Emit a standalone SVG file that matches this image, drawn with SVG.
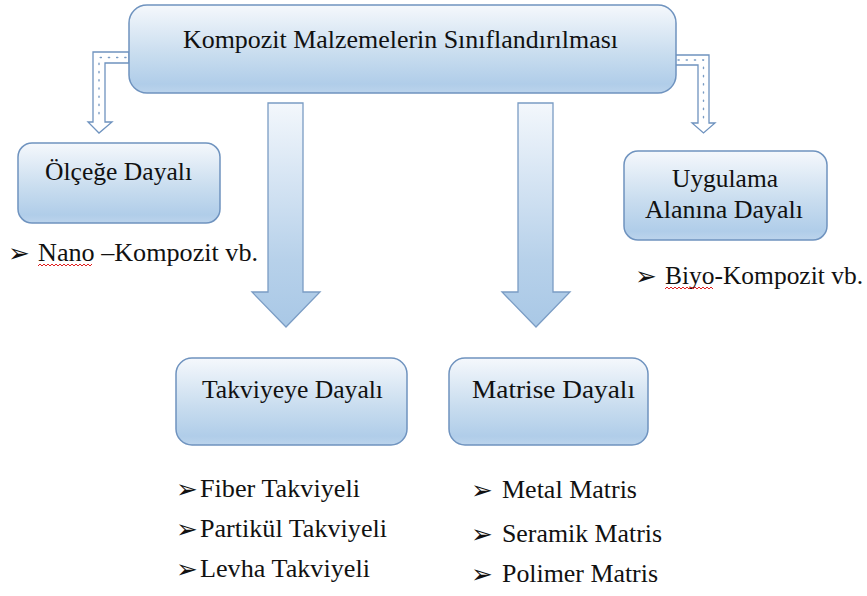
<svg xmlns="http://www.w3.org/2000/svg" width="867" height="596" viewBox="0 0 867 596">
<defs>
<linearGradient id="boxGrad" x1="0" y1="0" x2="0" y2="1">
<stop offset="0" stop-color="#f5f8fc"/>
<stop offset="0.55" stop-color="#c9ddef"/>
<stop offset="0.9" stop-color="#b0cde9"/>
<stop offset="1" stop-color="#bcd4ec"/>
</linearGradient>
<linearGradient id="arrowGrad" x1="0" y1="0" x2="0" y2="1">
<stop offset="0" stop-color="#f3f7fc"/>
<stop offset="0.7" stop-color="#b7d1ea"/>
<stop offset="1" stop-color="#a9c8e6"/>
</linearGradient>
</defs>
<style>
.box{fill:url(#boxGrad);stroke:#6f93bf;stroke-width:1.5}
.big{fill:url(#arrowGrad);stroke:#7a9cc4;stroke-width:1.3}
.bent{fill:#ffffff;stroke:#6f93bf;stroke-width:1.3}
.dots{fill:none;stroke:#7a9cc4;stroke-width:1.4;stroke-dasharray:1.2 7;stroke-linecap:round}
.t{font-family:'Liberation Serif',serif;font-size:25px;fill:#111}
.b{font-family:'DejaVu Sans',sans-serif;font-size:26px;fill:#111}
.sq{fill:none;stroke:#e02020;stroke-width:1}
</style>
<rect width="867" height="596" fill="#ffffff"/>
<g id="connectors">
<path class="bent" d="M129,52 H93 V122 H88 L99,133 L112,122 H105 V63 H129 Z"/>
<path class="dots" d="M126,57.5 H99 V119"/>
<path class="bent" d="M675,55 H709 V123 H715 L703.5,133 L692,123 H698 V65 H675 Z"/>
<path class="dots" d="M678,60 H703.5 V120"/>
<path class="big" d="M268,103 H303 V292 H320 L286,327 L252,292 H268 Z"/>
<path class="big" d="M518,103 H553 V292 H570 L536,327 L502,292 H518 Z"/>
</g>
<g id="root">
<rect class="box" x="129" y="5" width="547" height="88" rx="18"/>
<text class="t" x="183" y="48" textLength="435" lengthAdjust="spacingAndGlyphs">Kompozit Malzemelerin Sınıflandırılması</text>
</g>
<g id="olcege">
<rect class="box" x="18" y="143" width="202" height="80" rx="14"/>
<text class="t" x="45" y="180" textLength="147" lengthAdjust="spacingAndGlyphs">Ölçeğe Dayalı</text>
<text class="b" x="8" y="262">➢</text>
<text class="t" x="38" y="261" textLength="220" lengthAdjust="spacingAndGlyphs">Nano –Kompozit vb.</text>
<path class="sq" d="M38,266 l2,-2 l2,2 l2,-2 l2,2 l2,-2 l2,2 l2,-2 l2,2 l2,-2 l2,2 l2,-2 l2,2 l2,-2 l2,2 l2,-2 l2,2 l2,-2 l2,2 l2,-2 l2,2 l2,-2 l2,2 l2,-2 l2,2 l2,-2 l2,2 l2,-2"/>
</g>
<g id="uygulama">
<rect class="box" x="624" y="151" width="203" height="89" rx="14"/>
<text class="t" x="672" y="187" textLength="106" lengthAdjust="spacingAndGlyphs">Uygulama</text>
<text class="t" x="645" y="218" textLength="158" lengthAdjust="spacingAndGlyphs">Alanına Dayalı</text>
<text class="b" x="635" y="285">➢</text>
<text class="t" x="665" y="284" textLength="198" lengthAdjust="spacingAndGlyphs">Biyo-Kompozit vb.</text>
<path class="sq" d="M665,289 l2,-2 l2,2 l2,-2 l2,2 l2,-2 l2,2 l2,-2 l2,2 l2,-2 l2,2 l2,-2 l2,2 l2,-2 l2,2 l2,-2 l2,2 l2,-2 l2,2 l2,-2 l2,2 l2,-2 l2,2 l2,-2 l2,2"/>
</g>
<g id="takviyeye">
<rect class="box" x="176" y="358" width="231" height="87" rx="16"/>
<text class="t" x="202" y="398" textLength="181" lengthAdjust="spacingAndGlyphs">Takviyeye Dayalı</text>
<text class="b" x="176" y="498">➢</text>
<text class="t" x="200" y="497" textLength="160" lengthAdjust="spacingAndGlyphs">Fiber Takviyeli</text>
<text class="b" x="176" y="538">➢</text>
<text class="t" x="200" y="537" textLength="187" lengthAdjust="spacingAndGlyphs">Partikül Takviyeli</text>
<text class="b" x="176" y="578">➢</text>
<text class="t" x="200" y="577" textLength="170" lengthAdjust="spacingAndGlyphs">Levha Takviyeli</text>
</g>
<g id="matrise">
<rect class="box" x="449" y="358" width="199" height="87" rx="16"/>
<text class="t" x="472" y="398" textLength="163" lengthAdjust="spacingAndGlyphs">Matrise Dayalı</text>
<text class="b" x="471" y="499">➢</text>
<text class="t" x="502" y="498" textLength="135" lengthAdjust="spacingAndGlyphs">Metal Matris</text>
<text class="b" x="471" y="543">➢</text>
<text class="t" x="502" y="542" textLength="160" lengthAdjust="spacingAndGlyphs">Seramik Matris</text>
<text class="b" x="471" y="583">➢</text>
<text class="t" x="502" y="582" textLength="156" lengthAdjust="spacingAndGlyphs">Polimer Matris</text>
</g>
</svg>
